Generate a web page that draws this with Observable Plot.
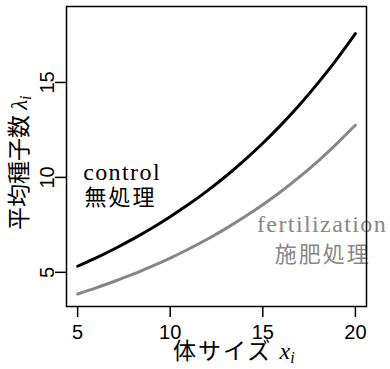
<!DOCTYPE html>
<html>
<head>
<meta charset="utf-8">
<script src="https://cdn.jsdelivr.net/npm/d3@7"></script>
<script src="https://cdn.jsdelivr.net/npm/@observablehq/plot@0.6"></script>
<style>
  html, body { margin: 0; padding: 0; background: #fff; }
</style>
</head>
<body>
<div id="chart"></div>
<script>
// body size values (x)
const sizes = [5, 6, 7, 8, 9, 10, 11, 12, 13, 14, 15, 16, 17, 18, 19, 20];
// mean seed number, control
const controlMean = [5.32, 5.76, 6.24, 6.76, 7.32, 7.93, 8.58, 9.29, 10.06, 10.90, 11.80, 12.78, 13.84, 14.99, 16.23, 17.57];
// mean seed number, fertilization
const fertMean = [3.86, 4.18, 4.53, 4.90, 5.31, 5.75, 6.23, 6.74, 7.30, 7.91, 8.56, 9.27, 10.04, 10.87, 11.78, 12.75];

const xTicks = [5, 10, 15, 20];
const yTicks = [5, 10, 15];

// in-plot labels
const labelText = ["control", "無処理", "fertilization", "施肥処理"];
const labelX = [7.40, 7.32, 18.20, 18.24];
const labelY = [9.87, 8.52, 7.12, 5.57];
const labelGroup = ["control", "control", "fertilization", "fertilization"];
const labelKind = ["latin", "cjk", "latin", "cjk"];

const colors = {control: "#000000", fertilization: "#878787"};

const lineData = [
  ...sizes.map((x, i) => ({x, y: controlMean[i], g: "control"})),
  ...sizes.map((x, i) => ({x, y: fertMean[i], g: "fertilization"}))
];
const labels = labelText.map((t, i) => ({t, x: labelX[i], y: labelY[i], g: labelGroup[i], k: labelKind[i]}));

const W = 390, H = 369;
const plot = Plot.plot({
  width: W,
  height: H,
  marginLeft: 66,
  marginRight: 24,
  marginTop: 6,
  marginBottom: 63,
  style: {fontFamily: "'Liberation Sans', Arial, sans-serif", background: "#fff", color: "#000"},
  x: {domain: [4.4, 20.6]},
  y: {domain: [3.2, 19.0]},
  marks: [
    Plot.line(lineData.filter(d => d.g === "control"), {x: "x", y: "y", stroke: colors.control, strokeWidth: 3, curve: "natural"}),
    Plot.line(lineData.filter(d => d.g === "fertilization"), {x: "x", y: "y", stroke: colors.fertilization, strokeWidth: 3, curve: "natural"}),
    Plot.text(labels.filter(d => d.k === "latin"), {
      x: "x", y: "y", text: "t", fill: d => colors[d.g],
      fontFamily: "'Liberation Serif', serif", fontSize: 24, lineAnchor: "bottom", textAnchor: "middle"
    }),
    Plot.text(labels.filter(d => d.k === "cjk"), {
      x: "x", y: "y", text: "t", fill: d => colors[d.g],
      fontFamily: "'Noto Sans CJK JP', sans-serif", fontSize: 22, lineAnchor: "bottom", textAnchor: "middle"
    }),
    Plot.axisX(xTicks, {tickSize: 11, tickPadding: 7, fontSize: 20, strokeWidth: 1.5, label: null}),
    Plot.axisY(yTicks, {tickSize: 11, tickFormat: () => "", strokeWidth: 1.5, label: null}),
    Plot.text(yTicks, {
      y: d => d, text: d => String(d), frameAnchor: "left", dx: -13, rotate: -90,
      lineAnchor: "bottom", textAnchor: "middle", fontSize: 20
    }),
    Plot.frame({stroke: "#000", strokeWidth: 1.5})
  ]
});

document.getElementById("chart").appendChild(plot);

const svg = d3.select(plot);
// widen the serif labels like the reference's Computer Modern
svg.selectAll("g[font-family*='Liberation Serif'] text").attr("letter-spacing", "1.4px");
svg.selectAll("g[font-family*='Noto Sans CJK'] text").attr("letter-spacing", "2px");

// axis titles with mixed CJK + math italic
const xl = svg.append("text")
  .attr("x", 173).attr("y", 359)
  .attr("text-anchor", "start")
  .attr("fill", "#000")
  .style("font-size", "23px");
xl.append("tspan").style("font-family", "'Noto Sans CJK JP', sans-serif").attr("letter-spacing", "2px").text("体サイズ ");
xl.append("tspan").style("font-family", "'Liberation Serif', serif").style("font-style", "italic").style("font-size", "24px").text("x");
xl.append("tspan").style("font-family", "'Liberation Serif', serif").style("font-style", "italic")
  .style("font-size", "16px").attr("dy", 4).text("i");

const yl = svg.append("text")
  .attr("transform", "translate(27,230) rotate(-90)")
  .attr("text-anchor", "start")
  .attr("fill", "#000")
  .style("font-size", "23px");
yl.append("tspan").style("font-family", "'Noto Sans CJK JP', sans-serif").text("平均種子数 ");
yl.append("tspan").style("font-family", "'Liberation Serif', serif").style("font-style", "italic").text("λ");
yl.append("tspan").style("font-family", "'Liberation Serif', serif").style("font-style", "italic")
  .style("font-size", "16px").attr("dy", 4).text("i");
</script>
</body>
</html>
